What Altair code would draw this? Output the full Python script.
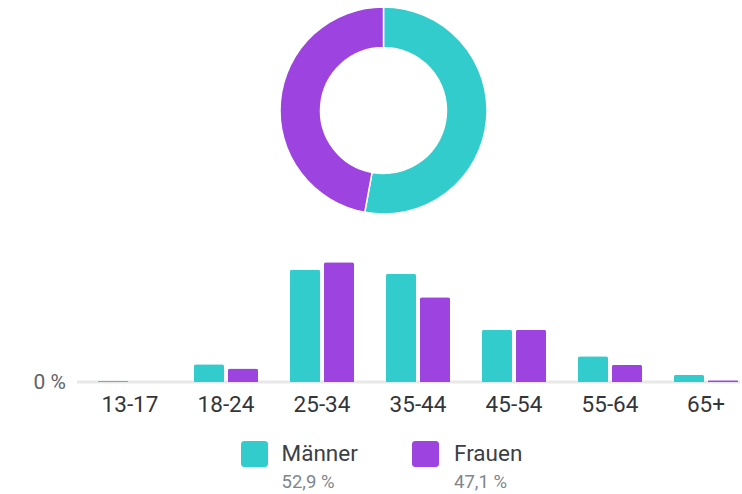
import altair as alt
import pandas as pd

# ---- data ----
age_groups = ["13-17", "18-24", "25-34", "35-44", "45-54", "55-64", "65+"]
men_pct = [0.2, 2.9, 18.3, 17.6, 8.5, 4.2, 1.2]
women_pct = [0.0, 2.2, 19.5, 13.8, 8.5, 2.8, 0.3]
sexes = ["Männer", "Frauen"]
sex_share = [52.9, 47.1]
share_labels = ["52,9 %", "47,1 %"]
colors = ["#33CCCC", "#9D43DF"]

bars_df = pd.DataFrame(
    [{"age": a, "sex": "Männer", "pct": v} for a, v in zip(age_groups, men_pct)]
    + [{"age": a, "sex": "Frauen", "pct": v} for a, v in zip(age_groups, women_pct)]
)
share_df = pd.DataFrame({"sex": sexes, "share": sex_share, "idx": [0, 1], "label": share_labels})
age_df = pd.DataFrame({"age": age_groups})

FONT = "Roboto"
xscale = alt.Scale(domain=age_groups, range=[82, 754], paddingInner=1 / 3, paddingOuter=1 / 6)
yscale = alt.Scale(domain=[0, 20], range=[382, 259.1])
cscale = alt.Scale(domain=sexes, range=colors)

baseline = alt.Chart(pd.DataFrame({"a": [0]})).mark_rule(color="#e8e8e8", strokeWidth=3).encode(
    x=alt.value(77), x2=alt.value(740), y=alt.value(382)
)

bars = alt.Chart(bars_df).mark_bar(cornerRadiusTopLeft=2, cornerRadiusTopRight=2).encode(
    x=alt.X("age:N", scale=xscale, axis=None, sort=age_groups),
    xOffset=alt.XOffset("sex:N", sort=sexes,
                        scale=alt.Scale(domain=sexes, paddingInner=0.1176, paddingOuter=0)),
    y=alt.Y("pct:Q", scale=yscale, axis=None),
    color=alt.Color("sex:N", scale=cscale, legend=None),
)

xlabels = alt.Chart(age_df).mark_text(
    font=FONT, fontSize=22.5, color="#333639", baseline="alphabetic", align="center"
).encode(
    x=alt.X("age:N", scale=xscale, axis=None, sort=age_groups),
    y=alt.value(412),
    text="age:N",
)

zero_label = alt.Chart(pd.DataFrame({"a": [0]})).mark_text(
    font=FONT, fontSize=21, color="#5f6368", align="right", baseline="middle"
).encode(x=alt.value(66), y=alt.value(383), text=alt.value("0 %"))

donut = alt.Chart(share_df).mark_arc(
    radius=103.5, innerRadius=63, stroke="white", strokeWidth=1.5
).encode(
    theta=alt.Theta("share:Q", stack=True),
    order=alt.Order("idx:Q"),
    color=alt.Color("sex:N", scale=cscale, legend=None),
    x=alt.value(383.5),
    y=alt.value(110.5),
)

legend_layers = []
legend_pos = [(241, 281.5), (412, 454)]
for i, (sx, tx) in enumerate(legend_pos):
    d = share_df.iloc[[i]]
    legend_layers.append(
        alt.Chart(d).mark_rect(cornerRadius=3).encode(
            x=alt.value(sx), x2=alt.value(sx + 27), y=alt.value(441), y2=alt.value(467),
            color=alt.Color("sex:N", scale=cscale, legend=None),
        )
    )
    legend_layers.append(
        alt.Chart(d).mark_text(font=FONT, fontSize=22.5, color="#3c4043", align="left",
                               baseline="alphabetic").encode(
            x=alt.value(tx), y=alt.value(461), text="sex:N")
    )
    legend_layers.append(
        alt.Chart(d).mark_text(font=FONT, fontSize=18.5, color="#80868b", align="left",
                               baseline="alphabetic").encode(
            x=alt.value(tx), y=alt.value(488), text="label:N")
    )

chart = alt.layer(baseline, bars, xlabels, zero_label, donut, *legend_layers).properties(
    width=742, height=494, autosize=alt.AutoSizeParams(type="none"), padding=0
).configure_view(stroke=None)

chart.save("out.html", embed_options={"renderer": "svg", "actions": False})
